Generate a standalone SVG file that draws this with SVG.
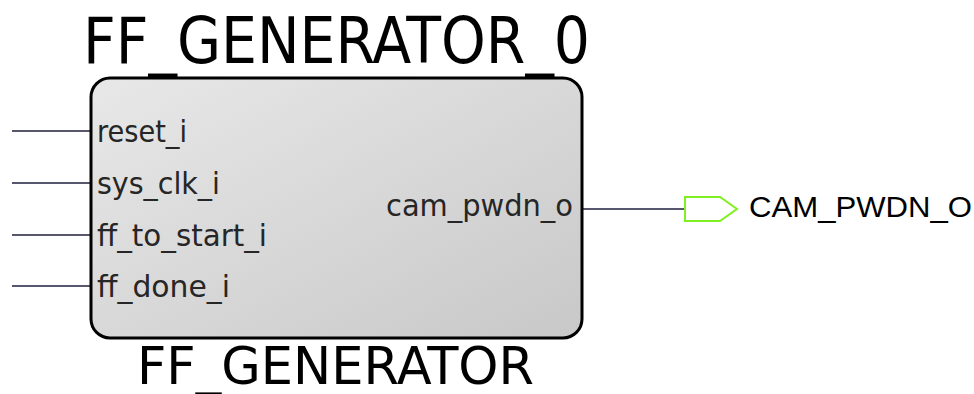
<svg xmlns="http://www.w3.org/2000/svg" width="974" height="394" viewBox="0 0 974 394">
<style>
.wire{stroke:#1e1e3c;stroke-width:1.6;fill:none}
.port{font-family:"DejaVu Sans Condensed","DejaVu Sans",sans-serif;font-size:31px;fill:#262626}
.title{font-family:"DejaVu Sans Condensed","DejaVu Sans",sans-serif;fill:#000}
.olabel{font-family:"Liberation Sans",Arial,sans-serif;font-size:30px;fill:#000}
</style>
<defs>
<linearGradient id="g" x1="0" y1="0" x2="1" y2="1">
<stop offset="0" stop-color="#e8e8e8"/>
<stop offset="1" stop-color="#c8c8c8"/>
</linearGradient>
</defs>
<g id="connectors">
<line class="wire" x1="12" y1="131" x2="91" y2="131"/>
<line class="wire" x1="12" y1="183" x2="91" y2="183"/>
<line class="wire" x1="12" y1="235" x2="91" y2="235"/>
<line class="wire" x1="12" y1="286" x2="91" y2="286"/>
<line class="wire" x1="582" y1="209" x2="685" y2="209"/>
</g>
<g id="FF_GENERATOR_0">
<text class="title" x="83" y="63" font-size="64" textLength="507" lengthAdjust="spacingAndGlyphs">FF_GENERATOR_0</text>
<rect x="91" y="78" width="491" height="260" rx="19" ry="19" fill="url(#g)" stroke="#000" stroke-width="3"/>
<text class="port" x="97" y="142" textLength="90" lengthAdjust="spacingAndGlyphs">reset_i</text>
<text class="port" x="97" y="194" textLength="123" lengthAdjust="spacingAndGlyphs">sys_clk_i</text>
<text class="port" x="97" y="246" textLength="170" lengthAdjust="spacingAndGlyphs">ff_to_start_i</text>
<text class="port" x="97" y="297" textLength="133" lengthAdjust="spacingAndGlyphs">ff_done_i</text>
<text class="port" x="386" y="216" textLength="187" lengthAdjust="spacingAndGlyphs">cam_pwdn_o</text>
<text class="title" x="137" y="384" font-size="51" textLength="397" lengthAdjust="spacingAndGlyphs">FF_GENERATOR</text>
</g>
<g id="CAM_PWDN_O">
<polygon points="685,197 720,197 737,209 720,221 685,221" fill="#fff" stroke="#80f020" stroke-width="2"/>
<text class="olabel" x="749" y="217" textLength="223" lengthAdjust="spacingAndGlyphs">CAM_PWDN_O</text>
</g>
</svg>
